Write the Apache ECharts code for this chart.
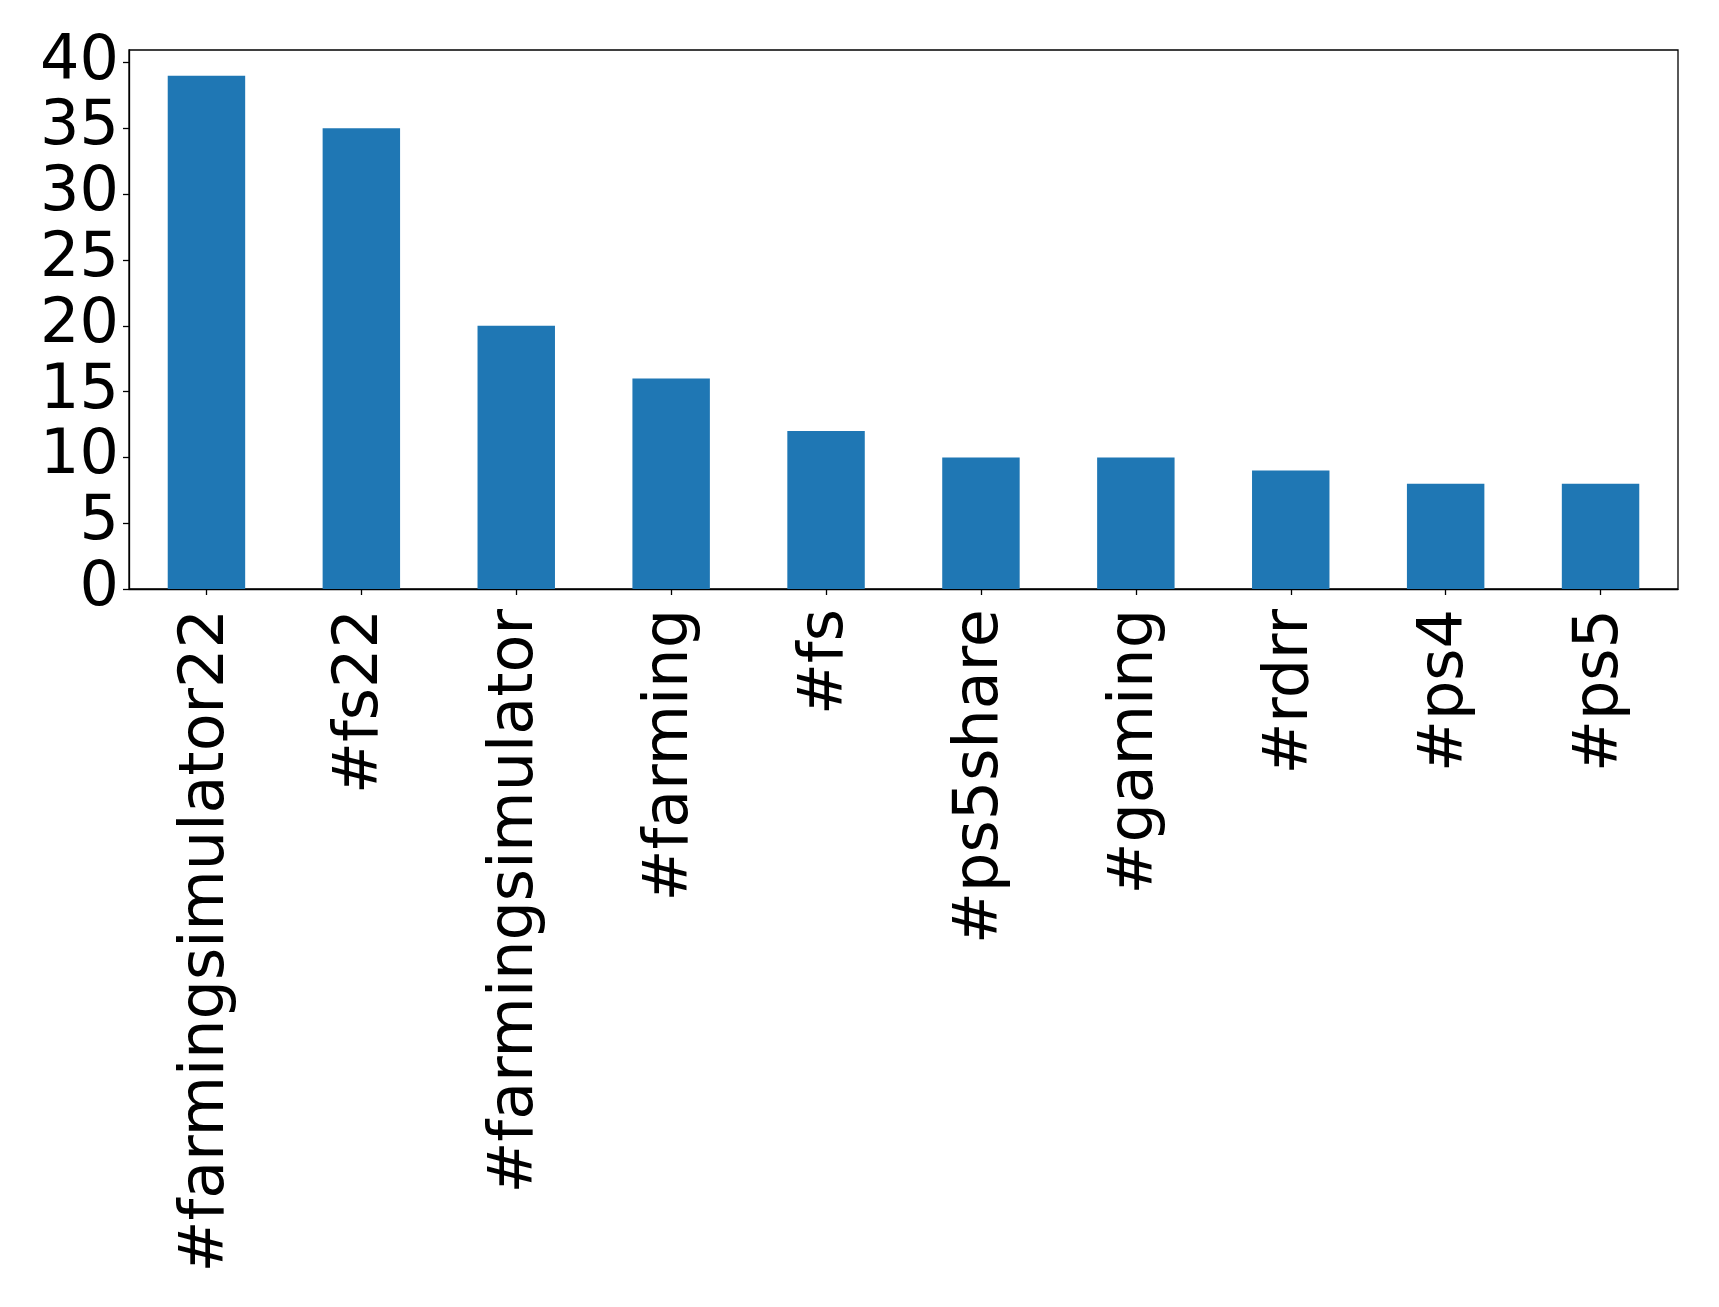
<!DOCTYPE html>
<html>
<head>
<meta charset="utf-8">
<script src="https://cdn.jsdelivr.net/npm/echarts@6/dist/echarts.min.js"></script>
<style>
html,body{margin:0;padding:0;background:#fff;}
#chart{width:1719px;height:1307px;}
</style>
</head>
<body>
<div id="chart"></div>
<script>
const categories = ['#farmingsimulator22','#fs22','#farmingsimulator','#farming','#fs','#ps5share','#gaming','#rdrr','#ps4','#ps5'];
const counts = [39, 35, 20, 16, 12, 10, 10, 9, 8, 8];
const yTicks = [0, 5, 10, 15, 20, 25, 30, 35, 40];

const chart = echarts.init(document.getElementById('chart'), null, {renderer: 'canvas'});
const font = 'DejaVu Sans';
chart.setOption({
  animation: false,
  backgroundColor: '#ffffff',
  grid: {
    left: 129, right: 41, top: 50, bottom: 718,
    show: true, borderColor: '#000', borderWidth: 1.3, backgroundColor: 'transparent'
  },
  xAxis: {
    type: 'category',
    data: categories,
    axisLine: {show: true, lineStyle: {color: '#000', width: 1.3}},
    axisTick: {show: true, alignWithLabel: true, length: 6, lineStyle: {color: '#000', width: 1.3}},
    axisLabel: {rotate: 90, interval: 0, margin: 20, padding: [10, 0, 0, 0], color: '#000', fontFamily: font, fontSize: 62}
  },
  yAxis: {
    type: 'value',
    min: 0, max: 40.95, interval: 5,
    splitLine: {show: false},
    axisLine: {show: true, lineStyle: {color: '#000', width: 1.3}},
    axisTick: {show: true, length: 6, customValues: yTicks, lineStyle: {color: '#000', width: 1.3}},
    axisLabel: {margin: 10, color: '#000', fontFamily: font, fontSize: 62, customValues: yTicks}
  },
  series: [{
    type: 'bar',
    data: counts,
    barWidth: '50%',
    itemStyle: {color: '#1f77b4'}
  }]
});
</script>
</body>
</html>
